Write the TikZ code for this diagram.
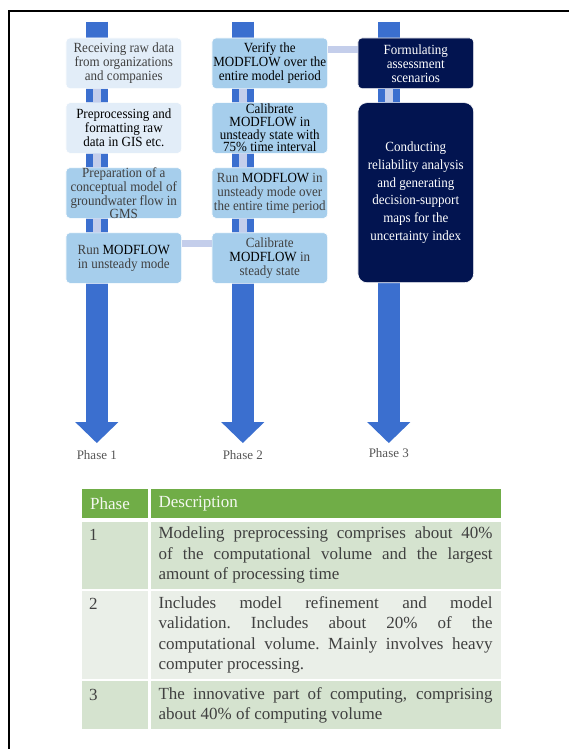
\documentclass[tikz,border=0pt]{standalone}
\usepackage{fontspec}
\setmainfont{Liberation Serif}
\newfontfamily\stagefont[FakeStretch=0.93]{Liberation Serif}
\usepackage{xcolor}
\usepackage{tikz}
\usetikzlibrary{arrows.meta, positioning}
\definecolor{shaftblue}{RGB}{59, 111, 207}
\definecolor{linklav}{RGB}{196, 206, 235}
\definecolor{paleblue}{RGB}{226, 237, 248}
\definecolor{skyblue}{RGB}{166, 206, 236}
\definecolor{deepnavy}{RGB}{2, 20, 80}
\definecolor{headgreen}{RGB}{112, 173, 71}
\definecolor{rowgreen}{RGB}{213, 227, 207}
\definecolor{rowpale}{RGB}{234, 239, 232}
\definecolor{textgray}{RGB}{64, 64, 64}
\definecolor{labelgray}{RGB}{85, 85, 85}
\newcommand{\mflow}{\textcolor{black}{MODFLOW}}

\begin{document}
\begin{tikzpicture}[
    x=1pt, y=-1pt,
    font={\fontsize{13}{14}\selectfont},
    stage/.style={rectangle, draw=white, line width=0.6pt, fill=#1, rounded corners=4pt,
                  minimum width=115.7pt, minimum height=50.6pt, inner sep=0pt,
                  align=center, text=textgray, font={\stagefont\fontsize{14}{14}\selectfont}},
    tight/.style={font={\stagefont\fontsize{14}{12.8}\selectfont}},
    phasearrow/.style={draw=shaftblue, line width=21.7pt,
                       -{Triangle[width=43.3pt, length=21pt, line width=0pt]}},
    vlink/.style={draw=linklav, line width=7.5pt},
    hlink/.style={draw=linklav, line width=7pt},
    phaselabel/.style={inner sep=0pt, text=labelgray},
    tcell/.style={rectangle, inner xsep=8pt, inner ysep=0pt, text width=#1,
                  font={\fontsize{17}{20.5}\selectfont}, text=textgray},
    numtext/.style={inner sep=0pt, font={\fontsize{17}{20.5}\selectfont}, text=textgray}
]
\useasboundingbox (0, 0) rectangle (569, 749);

% Frame
\draw[line width=2.2pt] (9, 749) -- (9, 11) -- (569, 11);

% Phase arrows
\coordinate (a1) at (96.8, 21.7);
\coordinate (a2) at (242.8, 21.7);
\coordinate (a3) at (388.8, 21.7);
\coordinate (e1) at (96.8, 443);
\coordinate (e2) at (242.8, 443);
\coordinate (e3) at (388.8, 443);
\foreach \i in {1,2,3}
    \draw[phasearrow] (a\i) -- (e\i);

% Phase 1
\node[stage=paleblue] (s11) at (123.8, 63.3) {Receiving raw data\\from organizations\\and companies};
\node[stage=paleblue, text=black] (s12) at (123.8, 128) {Preprocessing and\\formatting raw\\data in GIS etc.};
\node[stage=skyblue, tight] (s13) at (123.8, 193) {Preparation of a\\conceptual model of\\groundwater flow in\\GMS};
\node[stage=skyblue] (s14) at (123.8, 258) {Run \mflow\\in unsteady mode};

% Phase 2
\node[stage=skyblue, text=black] (s21) at (269.8, 63.3) {Verify the\\MODFLOW over the\\entire model period};
\node[stage=skyblue, text=black, tight] (s22) at (269.8, 128) {Calibrate\\MODFLOW in\\unsteady state with\\75\% time interval};
\node[stage=skyblue] (s23) at (269.8, 193) {Run \mflow{} in\\unsteady mode over\\the entire time period};
\node[stage=skyblue] (s24) at (269.8, 258) {Calibrate\\\mflow{} in\\steady state};

% Phase 3
\node[stage=deepnavy, text=white] (s31) at (415.8, 63.3) {Formulating\\assessment\\scenarios};
\node[stage=deepnavy, text=white, minimum height=180pt, rounded corners=9pt,
      font={\stagefont\fontsize{14}{17.7}\selectfont}] (s32) at (415.8, 192.7)
    {Conducting\\reliability analysis\\and generating\\decision-support\\maps for the\\uncertainty index};

% Links
\foreach \c in {1,2}
    \foreach \r/\n in {1/2, 2/3, 3/4}
        \draw[vlink] (a\c |- s\c\r.south) -- (a\c |- s\c\n.north);
\draw[vlink] (a3 |- s31.south) -- (a3 |- s32.north);
\draw[hlink] ([yshift=-11.5pt]s14.north east) -- ([yshift=-11.5pt]s24.north west);
\draw[hlink] ([yshift=-11.5pt]s21.north east) -- ([yshift=-11.5pt]s31.north west);

% Labels
\node[phaselabel, below=7pt of e1] (l1) {Phase 1};
\node[phaselabel, below=7pt of e2] (l2) {Phase 2};
\node[phaselabel, below=5pt of e3] (l3) {Phase 3};

% Table
\node[tcell=50pt, fill=headgreen, minimum height=29pt, text=white!92!headgreen,
      anchor=north west] (h1) at (82, 489) {Phase};
\node[tcell=334pt, fill=headgreen, minimum height=29pt, text=white!92!headgreen,
      right=2pt of h1] (h2) {Description};

\node[tcell=50pt, fill=rowgreen, minimum height=67pt, below=3pt of h1] (c1) {};
\node[tcell=334pt, fill=rowgreen, minimum height=67pt, align=justify, right=2pt of c1] (d1)
    {Modeling preprocessing comprises about 40\%\linebreak
     of the computational volume and the largest\linebreak
     amount of processing time};

\node[tcell=50pt, fill=rowpale, minimum height=88pt, below=2pt of c1] (c2) {};
\node[tcell=334pt, fill=rowpale, minimum height=88pt, align=justify, right=2pt of c2] (d2)
    {\hbadness=10000 Includes model refinement and model\linebreak
     validation.\ Includes about 20\% of the\linebreak
     computational volume.\ Mainly involves heavy\linebreak
     computer processing.};

\node[tcell=50pt, fill=rowgreen, minimum height=48pt, below=2pt of c2] (c3) {};
\node[tcell=334pt, fill=rowgreen, minimum height=48pt, align=justify, right=2pt of c3] (d3)
    {The innovative part of computing, comprising\linebreak
     about 40\% of computing volume};

\node[numtext, anchor=base west] (n1) at ([xshift=7pt, yshift=-19pt]c1.north west) {1};
\node[numtext, anchor=base west] (n2) at ([xshift=7pt, yshift=-19pt]c2.north west) {2};
\node[numtext, anchor=base west] (n3) at ([xshift=7pt, yshift=-19pt]c3.north west) {3};

\end{tikzpicture}
\end{document}
